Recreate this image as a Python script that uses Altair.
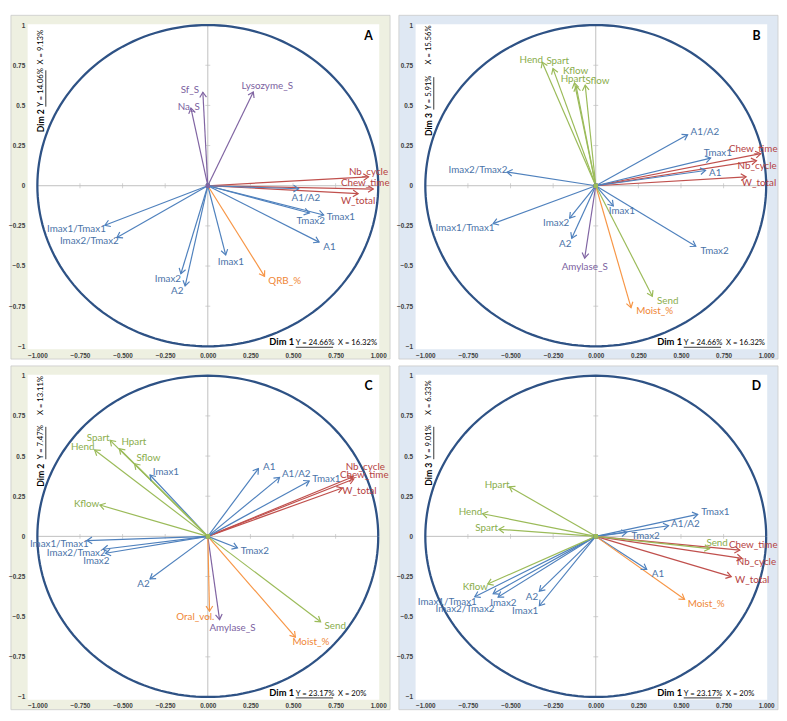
import altair as alt
import pandas as pd

# ---------------- data ----------------
GROUPS = ["red", "blue", "purple", "orange", "green"]
LINE_COLORS = ["#c0504d", "#4f81bd", "#8064a2", "#f79646", "#9bbb59"]
TEXT_COLORS = ["#b5423f", "#4a73a8", "#7b5fa0", "#ef8636", "#8aad4c"]

X_TICKS = [-1, -0.75, -0.5, -0.25, 0, 0.25, 0.5, 0.75, 1]
Y_TICKS = [-1, -0.75, -0.5, -0.25, 0, 0.25, 0.5, 0.75, 1]
MINOR = [-0.75, -0.5, -0.25, 0.25, 0.5, 0.75]

# Panel A : Dim 1 x Dim 2
A_names = ["Nb_cycle", "Chew_time", "W_total", "A1/A2", "Tmax1", "Tmax2", "A1", "Imax1",
           "QRB_%", "Imax1/Tmax1", "Imax2/Tmax2", "Imax2", "A2", "Sf_S", "Na_S", "Lysozyme_S"]
A_group = ["red", "red", "red", "blue", "blue", "blue", "blue", "blue",
           "orange", "blue", "blue", "blue", "blue", "purple", "purple", "purple"]
A_x = [0.943, 0.971, 0.882, 0.533, 0.680, 0.596, 0.653, 0.105,
       0.333, -0.604, -0.533, -0.158, -0.133, -0.029, -0.099, 0.267]
A_y = [0.055, -0.021, -0.049, -0.019, -0.182, -0.170, -0.351, -0.431,
       -0.564, -0.246, -0.322, -0.548, -0.624, 0.582, 0.483, 0.584]
A_lx = [0.943, 0.924, 0.882, 0.575, 0.781, 0.604, 0.714, 0.135,
        0.451, -0.771, -0.695, -0.234, -0.179, -0.105, -0.112, 0.349]
A_ly = [0.087, 0.015, -0.095, -0.079, -0.198, -0.220, -0.379, -0.475,
        -0.592, -0.270, -0.347, -0.578, -0.658, 0.598, 0.491, 0.622]

# Panel B : Dim 1 x Dim 3
B_names = ["Chew_time", "Nb_cycle", "W_total", "A1/A2", "Tmax1", "A1", "Tmax2", "Imax1",
           "Imax2", "A2", "Imax1/Tmax1", "Imax2/Tmax2", "Amylase_S", "Moist_%", "Send",
           "Hend", "Spart", "Kflow", "Hpart", "Sflow"]
B_group = ["red", "red", "red", "blue", "blue", "blue", "blue", "blue",
           "blue", "blue", "blue", "blue", "purple", "orange", "green",
           "green", "green", "green", "green", "green"]
B_x = [0.968, 0.943, 0.882, 0.539, 0.674, 0.644, 0.587, 0.103,
       -0.153, -0.141, -0.602, -0.520, -0.065, 0.207, 0.332,
       -0.314, -0.251, -0.125, -0.115, -0.062]
B_y = [0.200, 0.156, 0.055, 0.317, 0.172, 0.095, -0.377, -0.126,
       -0.202, -0.327, -0.236, 0.085, -0.451, -0.759, -0.688,
       0.769, 0.729, 0.640, 0.620, 0.626]
B_lx = [0.924, 0.947, 0.958, 0.640, 0.716, 0.701, 0.697, 0.153,
        -0.232, -0.179, -0.767, -0.691, -0.065, 0.346, 0.422,
        -0.378, -0.223, -0.118, -0.133, 0.010]
B_ly = [0.226, 0.120, 0.015, 0.333, 0.206, 0.079, -0.407, -0.156,
        -0.232, -0.363, -0.262, 0.099, -0.508, -0.779, -0.719,
        0.785, 0.779, 0.715, 0.662, 0.652]

# Panel C : Dim 1 x Dim 2
C_names = ["Nb_cycle", "Chew_time", "W_total", "A1", "A1/A2", "Tmax1", "Tmax2", "Imax1",
           "Imax1/Tmax1", "Imax2/Tmax2", "Imax2", "A2", "Amylase_S", "Oral_vol.", "Moist_%",
           "Send", "Spart", "Hpart", "Hend", "Sflow", "Kflow"]
C_group = ["red", "red", "red", "blue", "blue", "blue", "blue", "blue",
           "blue", "blue", "blue", "blue", "purple", "orange", "orange",
           "green", "green", "green", "green", "green", "green"]
C_x = [0.852, 0.857, 0.789, 0.297, 0.421, 0.595, 0.174, -0.339,
       -0.709, -0.615, -0.600, -0.339, 0.069, 0.010, 0.514,
       0.662, -0.573, -0.519, -0.664, -0.430, -0.633]
C_y = [0.371, 0.357, 0.301, 0.422, 0.367, 0.345, -0.072, 0.382,
       -0.026, -0.080, -0.105, -0.265, -0.518, -0.466, -0.627,
       -0.532, 0.598, 0.546, 0.538, 0.452, 0.195]
C_lx = [0.924, 0.918, 0.890, 0.360, 0.519, 0.696, 0.276, -0.246,
        -0.871, -0.772, -0.654, -0.377, 0.145, -0.073, 0.605,
        0.748, -0.643, -0.434, -0.734, -0.348, -0.711]
C_ly = [0.434, 0.380, 0.281, 0.430, 0.386, 0.355, -0.092, 0.402,
        -0.046, -0.106, -0.151, -0.295, -0.572, -0.502, -0.657,
        -0.558, 0.612, 0.586, 0.556, 0.490, 0.201]

# Panel D : Dim 1 x Dim 3
D_names = ["Chew_time", "Nb_cycle", "W_total", "Tmax1", "A1/A2", "Tmax2", "A1",
           "Imax1/Tmax1", "Imax2/Tmax2", "Imax2", "A2", "Imax1", "Moist_%",
           "Send", "Hpart", "Hend", "Spart", "Kflow"]
D_group = ["red", "red", "red", "blue", "blue", "blue", "blue",
           "blue", "blue", "blue", "blue", "blue", "orange",
           "green", "green", "green", "green", "green"]
D_x = [0.845, 0.858, 0.795, 0.598, 0.427, 0.181, 0.299,
       -0.710, -0.602, -0.573, -0.331, -0.331, 0.521,
       0.668, -0.507, -0.664, -0.568, -0.634]
D_y = [-0.086, -0.137, -0.251, 0.137, 0.066, 0.024, -0.205,
       -0.376, -0.357, -0.378, -0.341, -0.432, -0.392,
       -0.076, 0.309, 0.141, 0.044, -0.297]
D_lx = [0.924, 0.943, 0.918, 0.702, 0.526, 0.293, 0.365,
        -0.871, -0.767, -0.542, -0.374, -0.414, 0.648,
        0.712, -0.579, -0.735, -0.640, -0.706]
D_ly = [-0.056, -0.161, -0.271, 0.149, 0.076, 0.004, -0.237,
        -0.406, -0.452, -0.416, -0.376, -0.462, -0.422,
        -0.044, 0.321, 0.151, 0.054, -0.317]

# ---------------- layout ----------------
W, H = 358, 331
XD = [-1.057, 1.006]
YD = [-1.018, 1.006]
SX = W / (XD[1] - XD[0])
SY = H / (YD[1] - YD[0])
LEFT, RIGHT, TOP, BOTTOM = 17, 11, 9, 10

OLIVE = "#eef0e1"
BLUEBG = "#dfe8f3"
CIRCLE = "#2e5285"
AXGREY = "#bfbfbf"

XSC = alt.Scale(domain=XD, nice=False, zero=False)
YSC = alt.Scale(domain=YD, nice=False, zero=False)
XAXIS = alt.Axis(values=X_TICKS, format=".3f", labelFontSize=6.5, labelFontWeight="bold",
                 labelFont="Liberation Sans", labelColor="#404040", ticks=False, domain=False,
                 grid=False, labelPadding=3, title=None, zindex=1, labelFlush=False,
                 labelOverlap=False)
YAXIS = alt.Axis(values=Y_TICKS, format=".2~f", labelFontSize=6.5, labelFontWeight="bold",
                 labelFont="Liberation Sans", labelColor="#404040", ticks=False, domain=False,
                 grid=False, labelPadding=3, title=None, zindex=1, labelFlush=False,
                 labelOverlap=False)


def X(f):
    return alt.X(f, scale=XSC, axis=XAXIS)


def Y(f):
    return alt.Y(f, scale=YSC, axis=YAXIS)


def panel(names, grp, xs, ys, lxs, lys, letter, bg,
          ydim, ypct, xpct_y, y_starts, xdim_parts):
    df = pd.DataFrame({"name": names, "grp": grp, "x": xs, "y": ys, "lx": lxs, "ly": lys})
    col = alt.Color("grp:N", scale=alt.Scale(domain=GROUPS, range=LINE_COLORS), legend=None)
    one = pd.DataFrame({"z": [0], "lo": [-1], "hi": [1]})

    bgrect = alt.Chart(one).mark_rect(fill=bg, stroke="#c9c9c9", strokeWidth=0.8).encode(
        x=alt.value(-LEFT), x2=alt.value(W + RIGHT), y=alt.value(-TOP), y2=alt.value(H + BOTTOM))
    white = alt.Chart(one).mark_rect(fill="white").encode(
        x=alt.value(0), x2=alt.value(W), y=alt.value(0), y2=alt.value(H))

    vrule = alt.Chart(one).mark_rule(color=AXGREY, strokeWidth=1).encode(
        x=X("z:Q"), y=Y("lo:Q"), y2="hi:Q")
    hrule = alt.Chart(one).mark_rule(color=AXGREY, strokeWidth=1).encode(
        y=Y("z:Q"), x=X("lo:Q"), x2="hi:Q")

    minor = pd.DataFrame({"v": MINOR, "z": [0] * len(MINOR)})
    vt = alt.Chart(minor).mark_tick(orient="horizontal", size=5, thickness=1, color=AXGREY).encode(
        x=X("z:Q"), y=Y("v:Q"))
    ht = alt.Chart(minor).mark_tick(orient="vertical", size=5, thickness=1, color=AXGREY).encode(
        x=X("v:Q"), y=Y("z:Q"))

    circ = alt.Chart(alt.sequence(0, 362, 2, as_="t")).transform_calculate(
        cx="cos(datum.t*PI/180)", cy="sin(datum.t*PI/180)"
    ).mark_line(color=CIRCLE, strokeWidth=2.3).encode(
        x=X("cx:Q"), y=Y("cy:Q"), order="t:Q")

    base = alt.Chart(df).transform_calculate(z="0")
    arrows = base.mark_rule(strokeWidth=1.2).encode(
        x=X("z:Q"), y=Y("z:Q"), x2="x:Q", y2="y:Q", color=col)
    heads = base.transform_calculate(
        ang=f"(atan2(-datum.y*{SY:.3f}, datum.x*{SX:.3f})*180/PI+360)%360"
    ).mark_point(shape="M -1 -0.65 L 0 0 L -1 0.65", filled=False, size=110,
                 strokeWidth=1.2, opacity=1).encode(
        x=X("x:Q"), y=Y("y:Q"), angle=alt.Angle("ang:Q", scale=None), color=col)
    origin = base.mark_point(shape="square", filled=True, size=14, opacity=1).encode(
        x=X("z:Q"), y=Y("z:Q"), color=col)
    labels = alt.Chart(df).mark_text(font="Lato", fontSize=10).encode(
        x=X("lx:Q"), y=Y("ly:Q"), text="name:N",
        fill=alt.Fill("grp:N", scale=alt.Scale(domain=GROUPS, range=TEXT_COLORS), legend=None))

    def txt(s, x, y, **kw):
        return alt.Chart(pd.DataFrame({"s": [s]})).mark_text(**kw).encode(
            x=alt.value(x), y=alt.value(y), text="s:N")

    let = txt(letter, W - 11, 12, font="Lato", fontSize=12.5, fontWeight="bold",
              color="black", align="center", baseline="middle")
    d_start, y_start, x_start, y_len = y_starts
    xt1 = txt(xdim_parts[0], 246, 327, font="Lato", fontSize=9.5, fontWeight="bold",
              color="black", align="left", baseline="alphabetic")
    xt2 = txt(xdim_parts[1], 273, 327, font="Lato", fontSize=7.8, color="black",
              align="left", baseline="alphabetic")
    xt3 = txt(xdim_parts[2], 316, 327, font="Lato", fontSize=7.8, color="black",
              align="left", baseline="alphabetic")
    xul = alt.Chart(one).mark_rule(color="black", strokeWidth=0.8).encode(
        x=alt.value(273), x2=alt.value(311), y=alt.value(329))
    yt1 = txt(ydim, 14, d_start, font="Lato", fontSize=8.8, fontWeight="bold", color="black",
              align="left", baseline="middle", angle=270)
    yt2 = txt(ypct, 14, y_start, font="Lato", fontSize=7.8, color="black",
              align="left", baseline="middle", angle=270)
    yt3 = txt(xpct_y, 14, x_start, font="Lato", fontSize=7.8, color="black",
              align="left", baseline="middle", angle=270)
    yul = alt.Chart(one).mark_rule(color="black", strokeWidth=0.8).encode(
        x=alt.value(18.5), y=alt.value(y_start), y2=alt.value(y_start - y_len))

    return alt.layer(bgrect, white, vrule, hrule, vt, ht, circ, arrows, heads, origin,
                     labels, let, xt1, xt2, xt3, xul, yt1, yt2, yt3, yul).properties(
        width=W, height=H)


pA = panel(A_names, A_group, A_x, A_y, A_lx, A_ly, "A", OLIVE,
           "Dim 2", "Y = 14.06%", "X = 9.13%", (110, 84, 41, 37),
           ("Dim 1", "Y = 24.66%", "X = 16.32%"))
pB = panel(B_names, B_group, B_x, B_y, B_lx, B_ly, "B", BLUEBG,
           "Dim 3", "Y = 5.91%", "X = 15.56%", (114, 87, 41, 33),
           ("Dim 1", "Y = 24.66%", "X = 16.32%"))
pC = panel(C_names, C_group, C_x, C_y, C_lx, C_ly, "C", OLIVE,
           "Dim 2", "Y = 7.47%", "X = 13.11%", (114, 86, 41, 33),
           ("Dim 1", "Y = 23.17%", "X = 20%"))
pD = panel(D_names, D_group, D_x, D_y, D_lx, D_ly, "D", BLUEBG,
           "Dim 3", "Y = 9.01%", "X = 6.33%", (113, 86, 41, 33),
           ("Dim 1", "Y = 23.17%", "X = 20%"))

chart = alt.vconcat(
    alt.hconcat(pA, pB, spacing=5),
    alt.hconcat(pC, pD, spacing=5),
    spacing=5,
    padding=0,
).configure_view(stroke=None)

chart.save("out.html", embed_options={"renderer": "svg", "actions": False})
